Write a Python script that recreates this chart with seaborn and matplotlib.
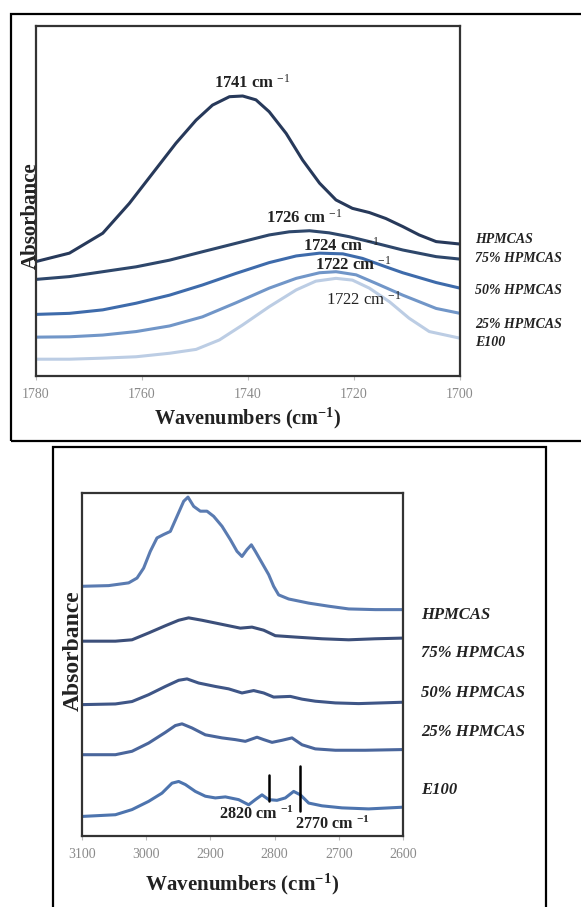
import matplotlib
matplotlib.use("Agg")
import matplotlib.pyplot as plt
import matplotlib.patches as mpatches
import pandas as pd
import seaborn as sns

# ---------------- Top panel data (1780-1700 cm-1) ----------------
top_samples = ["HPMCAS", "75% HPMCAS", "50% HPMCAS", "25% HPMCAS", "E100"]
top_hpmcas_wn = [1780, 1773.7, 1767.4, 1762.4, 1758, 1753.6, 1749.8, 1746.7, 1743.5, 1741, 1738.5, 1736, 1732.8, 1729.7, 1726.5, 1723.4, 1720.3, 1717.1, 1714, 1710.8, 1707.7, 1704.5, 1700]
top_hpmcas_ab = [0.327, 0.351, 0.408, 0.493, 0.579, 0.665, 0.731, 0.774, 0.798, 0.800, 0.789, 0.755, 0.693, 0.617, 0.551, 0.503, 0.479, 0.467, 0.450, 0.427, 0.403, 0.384, 0.377]
top_75_wn = [1780, 1773.7, 1767.4, 1761.1, 1754.8, 1748.6, 1742.3, 1736, 1732.2, 1728.4, 1724.7, 1720.9, 1717.1, 1710.8, 1704.5, 1700]
top_75_ab = [0.276, 0.284, 0.298, 0.312, 0.331, 0.355, 0.379, 0.403, 0.412, 0.415, 0.409, 0.398, 0.384, 0.360, 0.341, 0.334]
top_50_wn = [1780, 1773.7, 1767.4, 1761.1, 1754.8, 1748.6, 1742.3, 1736, 1730.9, 1726.5, 1722.1, 1718.4, 1714, 1710.8, 1704.5, 1700]
top_50_ab = [0.176, 0.179, 0.189, 0.208, 0.231, 0.260, 0.293, 0.324, 0.343, 0.351, 0.349, 0.336, 0.312, 0.295, 0.267, 0.251]
top_25_wn = [1780, 1773.7, 1767.4, 1761.1, 1754.8, 1748.6, 1742.3, 1736, 1730.9, 1726.5, 1723.4, 1719.6, 1715.9, 1710.8, 1704.5, 1700]
top_25_ab = [0.111, 0.112, 0.117, 0.127, 0.143, 0.169, 0.209, 0.251, 0.279, 0.295, 0.298, 0.289, 0.265, 0.231, 0.193, 0.179]
top_e100_wn = [1780, 1773.7, 1767.4, 1761.1, 1754.8, 1749.8, 1745.4, 1741, 1736, 1730.9, 1727.2, 1723.4, 1720.3, 1717.1, 1713.3, 1709.6, 1705.8, 1700]
top_e100_ab = [0.048, 0.048, 0.051, 0.055, 0.065, 0.076, 0.103, 0.146, 0.198, 0.246, 0.271, 0.279, 0.274, 0.251, 0.212, 0.165, 0.127, 0.108]
top_colors = ["#27395a", "#2e476b", "#3e6bab", "#7196c8", "#bccde4"]
top_label_y = [0.391, 0.337, 0.243, 0.146, 0.097]
top_ticks = [1780, 1760, 1740, 1720, 1700]
top_peaks = ["1741 cm", "1726 cm", "1724 cm", "1722 cm", "1722 cm"]
top_peak_x = [1739.1, 1729.3, 1722.4, 1720.2, 1718.2]
top_peak_y = [0.837, 0.453, 0.372, 0.319, 0.217]

# ---------------- Bottom panel data (3100-2600 cm-1) ----------------
bot_samples = ["HPMCAS", "75% HPMCAS", "50% HPMCAS", "25% HPMCAS", "E100"]
bot_hpmcas_wn = [3100, 3058.5, 3027.3, 3014.3, 3004, 2993.6, 2983.2, 2972.8, 2962.4, 2952, 2941.6, 2934.9, 2926, 2915.7, 2905.3, 2894.9, 2881.9, 2868.9, 2858.6, 2850.8, 2843, 2836.2, 2830, 2819.6, 2809.2, 2801.5, 2793.7, 2778.1, 2747, 2715.8, 2684.6, 2643.1, 2600]
bot_hpmcas_ab = [0.728, 0.730, 0.738, 0.752, 0.781, 0.830, 0.869, 0.879, 0.888, 0.932, 0.976, 0.988, 0.961, 0.947, 0.947, 0.932, 0.903, 0.864, 0.830, 0.815, 0.835, 0.849, 0.830, 0.796, 0.762, 0.728, 0.703, 0.691, 0.679, 0.670, 0.662, 0.660, 0.660]
bot_75_wn = [3100, 3048, 3022.1, 2996.2, 2970.2, 2949.4, 2933.9, 2913.1, 2892.3, 2871.6, 2853.4, 2835.2, 2817, 2798.9, 2767.7, 2726.2, 2684.6, 2643.1, 2600]
bot_75_ab = [0.568, 0.568, 0.572, 0.592, 0.613, 0.629, 0.636, 0.629, 0.621, 0.613, 0.606, 0.609, 0.600, 0.584, 0.580, 0.575, 0.572, 0.575, 0.577]
bot_50_wn = [3100, 3048, 3022.1, 2996.2, 2970.2, 2949.4, 2936.4, 2918.3, 2892.3, 2871.6, 2850.8, 2832.6, 2817, 2801.5, 2775.5, 2757.3, 2736.6, 2705.4, 2669.1, 2600]
bot_50_ab = [0.383, 0.385, 0.392, 0.412, 0.436, 0.454, 0.458, 0.446, 0.436, 0.429, 0.417, 0.424, 0.417, 0.405, 0.407, 0.399, 0.393, 0.388, 0.386, 0.390]
bot_25_wn = [3100, 3048, 3022.1, 2996.2, 2970.2, 2954.6, 2944.2, 2928.7, 2907.9, 2881.9, 2861.2, 2845.6, 2827.4, 2817, 2804, 2788.5, 2772.9, 2757.3, 2736.6, 2705.4, 2658.7, 2600]
bot_25_ab = [0.237, 0.237, 0.247, 0.271, 0.302, 0.322, 0.327, 0.315, 0.295, 0.286, 0.281, 0.276, 0.288, 0.281, 0.273, 0.279, 0.286, 0.266, 0.254, 0.250, 0.250, 0.252]
bot_e100_wn = [3100, 3048, 3022.1, 2996.2, 2975.4, 2959.8, 2949.4, 2939, 2923.5, 2907.9, 2892.3, 2876.7, 2856, 2840.4, 2830, 2819.6, 2809.2, 2796.3, 2783.3, 2770.3, 2759.9, 2746.9, 2726.2, 2695, 2653.5, 2600]
bot_e100_ab = [0.057, 0.062, 0.077, 0.101, 0.125, 0.154, 0.159, 0.150, 0.130, 0.116, 0.111, 0.114, 0.106, 0.091, 0.106, 0.120, 0.106, 0.104, 0.111, 0.130, 0.120, 0.096, 0.088, 0.082, 0.079, 0.084]
bot_colors = ["#5a7bb1", "#3c4f7a", "#3f5687", "#4a669c", "#4d74ae"]
bot_label_y = [0.645, 0.533, 0.418, 0.302, 0.134]
bot_ticks = [3100, 3000, 2900, 2800, 2700, 2600]
marker_wn = [2808.2, 2759.9]
marker_lo = [0.101, 0.072]
marker_hi = [0.179, 0.203]
marker_text = ["2820 cm", "2770 cm"]
marker_text_x = [2827.4, 2709.6]
marker_text_y = [0.062, 0.033]

# ---------------- Build tables ----------------
def long_table(samples, wns, abs_):
    rows = []
    for s, w, a in zip(samples, wns, abs_):
        for wi, ai in zip(w, a):
            rows.append({"sample": s, "wn": wi, "ab": ai})
    return pd.DataFrame(rows)

top_df = long_table(top_samples,
                    [top_hpmcas_wn, top_75_wn, top_50_wn, top_25_wn, top_e100_wn],
                    [top_hpmcas_ab, top_75_ab, top_50_ab, top_25_ab, top_e100_ab])
bot_df = long_table(bot_samples,
                    [bot_hpmcas_wn, bot_75_wn, bot_50_wn, bot_25_wn, bot_e100_wn],
                    [bot_hpmcas_ab, bot_75_ab, bot_50_ab, bot_25_ab, bot_e100_ab])

sns.set_theme(style="white")
plt.rcParams["font.family"] = ["Liberation Serif", "DejaVu Serif"]
plt.rcParams["mathtext.fontset"] = "custom"
plt.rcParams["mathtext.rm"] = "Liberation Serif"
plt.rcParams["mathtext.it"] = "Liberation Serif:italic"
plt.rcParams["mathtext.bf"] = "Liberation Serif:bold"

W, H = 581, 907
fig = plt.figure(figsize=(W / 100, H / 100), dpi=100)
fig.patch.set_facecolor("white")

def fx(px):
    return px / W

def fy(py):
    return 1 - py / H

# outer frames
fig.add_artist(mpatches.Rectangle((fx(11), fy(441)), fx(600) - fx(11), fy(14) - fy(441),
                                  transform=fig.transFigure, fill=False, lw=1.6, ec="black"))
fig.add_artist(mpatches.Rectangle((fx(53), fy(960)), fx(546) - fx(53), fy(447) - fy(960),
                                  transform=fig.transFigure, fill=False, lw=1.6, ec="black"))

ax1 = fig.add_axes([fx(36), fy(376), fx(460) - fx(36), fy(26) - fy(376)])
ax2 = fig.add_axes([fx(82), fy(836), fx(403) - fx(82), fy(493) - fy(836)])

sns.lineplot(data=top_df, x="wn", y="ab", hue="sample", palette=top_colors,
             hue_order=top_samples, sort=False, estimator=None, lw=2.2, ax=ax1, legend=False)
sns.lineplot(data=bot_df, x="wn", y="ab", hue="sample", palette=bot_colors,
             hue_order=bot_samples, sort=False, estimator=None, lw=2.2, ax=ax2, legend=False)
for ax in (ax1, ax2):
    for ln in ax.get_lines():
        ln.set_solid_joinstyle("round")
        ln.set_solid_capstyle("round")

for ax, ticks, lo, hi in [(ax1, top_ticks, 1780, 1700), (ax2, bot_ticks, 3100, 2600)]:
    ax.set_xlim(lo, hi)
    ax.set_ylim(0, 1)
    ax.set_xticks(ticks)
    ax.set_xticklabels([str(t) for t in ticks])
    ax.set_yticks([])
    ax.tick_params(axis="x", direction="out", length=3, width=0.8, color="#bbbbbb",
                   labelsize=10, labelcolor="#8a8a8a", pad=6, bottom=True)
    for sp in ax.spines.values():
        sp.set_color("#333333")
        sp.set_linewidth(1.6)

ax1.set_xlabel(r"Wavenumbers (cm$^{\mathbf{-1}}$)", fontsize=14.6, fontweight="bold", color="#222222")
ax1.set_ylabel("Absorbance", fontsize=15, fontweight="bold", color="#222222")
ax2.set_xlabel(r"Wavenumbers (cm$^{\mathbf{-1}}$)", fontsize=15.1, fontweight="bold", color="#222222")
ax2.set_ylabel("Absorbance", fontsize=17, fontweight="bold", color="#222222")

ax1.xaxis.set_label_coords(0.5, -0.085)
ax1.yaxis.set_label_coords(0.012, 0.457)
ax2.xaxis.set_label_coords(0.5, -0.105)
ax2.yaxis.set_label_coords(0.006, 0.54)

# right-hand sample labels
for name, y in zip(top_samples, top_label_y):
    ax1.text(1.035, y, name, transform=ax1.transAxes,
             fontsize=10, fontweight="bold", fontstyle="italic", color="#222222",
             va="center", ha="left", clip_on=False)
for name, y in zip(bot_samples, bot_label_y):
    ax2.text(1.056, y, name, transform=ax2.transAxes,
             fontsize=12, fontweight="bold", fontstyle="italic", color="#222222",
             va="center", ha="left", clip_on=False)

# peak annotations (top)
for i, (t, x, y) in enumerate(zip(top_peaks, top_peak_x, top_peak_y)):
    weight = "bold" if i < 4 else "normal"
    ax1.text(x, y, t + r" $^{-1}$", fontsize=12, fontweight=weight, color="#222222",
             ha="center", va="center")

# markers (bottom)
for w, lo_, hi_ in zip(marker_wn, marker_lo, marker_hi):
    ax2.plot([w, w], [lo_, hi_], color="black", lw=1.8)
for t, x, y in zip(marker_text, marker_text_x, marker_text_y):
    ax2.text(x, y, t + r" $^{\mathbf{-1}}$", fontsize=11.7, fontweight="bold", color="#222222",
             ha="center", va="center")

fig.savefig("out.png", dpi=100, facecolor="white")
